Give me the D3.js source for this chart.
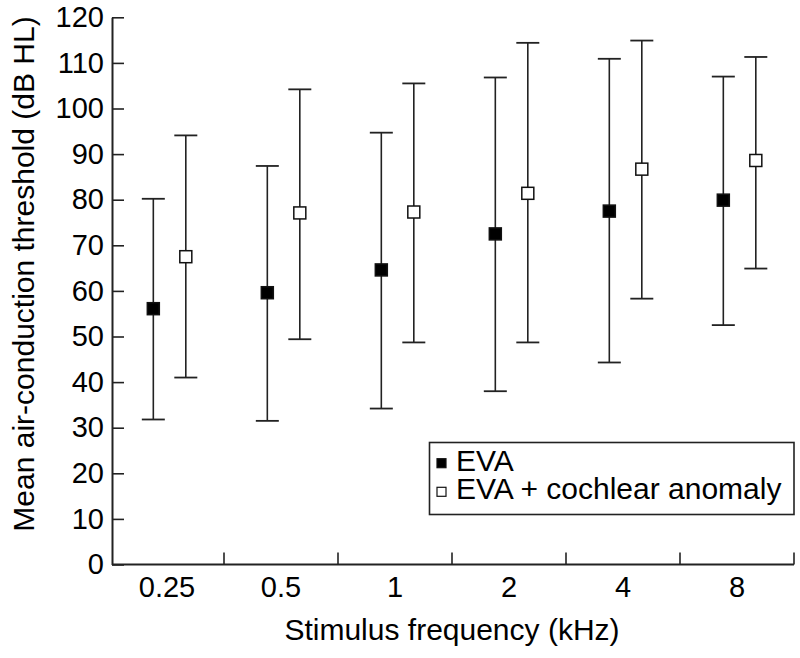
<!DOCTYPE html>
<html>
<head>
<meta charset="utf-8">
<script src="https://cdn.jsdelivr.net/npm/d3@7"></script>
<style>
  html, body { margin: 0; padding: 0; background: #fff; }
  svg { display: block; font-family: "Liberation Sans", Arial, sans-serif; }
</style>
</head>
<body>
<svg id="chart" width="800" height="658"></svg>
<script>
// ---- data ----
const categories = ["0.25", "0.5", "1", "2", "4", "8"];
const evaMean   = [56.1, 59.6, 64.6, 72.5, 77.5, 79.9];
const evaUpper  = [80.2, 87.4, 94.7, 106.8, 110.9, 107.0];
const evaLower  = [31.8, 31.5, 34.2, 38.0, 44.3, 52.5];
const anomMean  = [67.5, 77.1, 77.3, 81.4, 86.7, 88.6];
const anomUpper = [94.1, 104.2, 105.5, 114.4, 114.9, 111.3];
const anomLower = [41.0, 49.4, 48.7, 48.7, 58.3, 64.9];
const yTicks = [0, 10, 20, 30, 40, 50, 60, 70, 80, 90, 100, 110, 120];
const seriesNames = ["EVA", "EVA + cochlear anomaly"];

// ---- layout ----
const svg = d3.select("#chart");
const axisX = 112;          // y-axis position
const plotRight = 794;
const plotTop = 17.3;
const plotBottom = 564.5;
const ink = "#222";

const x = d3.scaleBand().domain(categories).range([110, plotRight]).padding(0);
const y = d3.scaleLinear().domain([0, 120]).range([plotBottom, plotTop]);
const bw = x.bandwidth();

const series = [
  { name: seriesNames[0], mean: evaMean, upper: evaUpper, lower: evaLower, frac: 0.38, fill: "#000" },
  { name: seriesNames[1], mean: anomMean, upper: anomUpper, lower: anomLower, frac: 0.665, fill: "#fff" }
];

// ---- y axis ----
const yAxis = svg.append("g")
  .attr("transform", `translate(${axisX},0)`)
  .call(d3.axisLeft(y).tickValues(yTicks).tickSizeInner(-12).tickSizeOuter(0).tickPadding(8));
yAxis.select(".domain").attr("stroke", ink).attr("stroke-width", 2);
yAxis.selectAll(".tick line").attr("stroke", ink).attr("stroke-width", 1.6);
yAxis.selectAll(".tick text")
  .attr("fill", "#000").style("font-size", "29px")
  .style("font-family", "'Liberation Sans', Arial, sans-serif");

// ---- x axis ----
const xAxis = svg.append("g")
  .attr("transform", `translate(0,${plotBottom})`)
  .call(d3.axisBottom(x).tickSize(0).tickPadding(12));
xAxis.select(".domain").remove();
xAxis.selectAll(".tick text")
  .attr("fill", "#000").attr("dy", "0.71em").style("font-size", "29px")
  .style("font-family", "'Liberation Sans', Arial, sans-serif");

svg.append("line")
  .attr("x1", axisX).attr("x2", plotRight)
  .attr("y1", plotBottom).attr("y2", plotBottom)
  .attr("stroke", ink).attr("stroke-width", 2);

// boundary ticks (pointing up)
svg.append("g").selectAll("line")
  .data(categories)
  .join("line")
  .attr("x1", d => x(d) + bw).attr("x2", d => x(d) + bw)
  .attr("y1", plotBottom).attr("y2", plotBottom - 12)
  .attr("stroke", ink).attr("stroke-width", 1.6);

// ---- error bars and markers ----
const capHalf = 11.5;
const mSize = 12;
series.forEach(s => {
  const g = svg.append("g");
  const cx = (d) => x(d) + bw * s.frac;
  const rows = categories.map((c, i) => ({ c, mean: s.mean[i], up: s.upper[i], lo: s.lower[i] }));
  g.selectAll("line.v").data(rows).join("line").attr("class", "v")
    .attr("x1", d => cx(d.c)).attr("x2", d => cx(d.c))
    .attr("y1", d => y(d.up)).attr("y2", d => y(d.lo))
    .attr("stroke", ink).attr("stroke-width", 1.6);
  g.selectAll("line.cu").data(rows).join("line").attr("class", "cu")
    .attr("x1", d => cx(d.c) - capHalf).attr("x2", d => cx(d.c) + capHalf)
    .attr("y1", d => y(d.up)).attr("y2", d => y(d.up))
    .attr("stroke", ink).attr("stroke-width", 1.8);
  g.selectAll("line.cl").data(rows).join("line").attr("class", "cl")
    .attr("x1", d => cx(d.c) - capHalf).attr("x2", d => cx(d.c) + capHalf)
    .attr("y1", d => y(d.lo)).attr("y2", d => y(d.lo))
    .attr("stroke", ink).attr("stroke-width", 1.8);
  g.selectAll("rect").data(rows).join("rect")
    .attr("x", d => cx(d.c) - mSize / 2).attr("y", d => y(d.mean) - mSize / 2)
    .attr("width", mSize).attr("height", mSize)
    .attr("fill", s.fill).attr("stroke", "#111").attr("stroke-width", 1.5);
});

// ---- legend ----
const lg = svg.append("g");
lg.append("rect")
  .attr("x", 429.5).attr("y", 442.5).attr("width", plotRight - 429.5).attr("height", 72)
  .attr("fill", "#fff").attr("stroke", ink).attr("stroke-width", 1.6);
const lineGap = 28.6;
series.forEach((s, i) => {
  const by = 470.7 + i * lineGap;
  lg.append("rect")
    .attr("x", 437).attr("y", by - 12).attr("width", 9).attr("height", 9)
    .attr("fill", s.fill).attr("stroke", "#111").attr("stroke-width", 1.2);
});
const lgText = lg.append("text")
  .attr("fill", "#000").style("font-size", "30px");
lgText.selectAll("tspan").data(series).join("tspan")
  .attr("x", 456).attr("y", (s, i) => 470.7 + i * lineGap)
  .text(s => s.name);

// ---- axis titles ----
svg.append("text")
  .attr("x", 452).attr("y", 639.5)
  .attr("text-anchor", "middle").attr("fill", "#000").style("font-size", "30px")
  .text("Stimulus frequency (kHz)");
svg.append("text")
  .attr("transform", "translate(34,274) rotate(-90)")
  .attr("text-anchor", "middle").attr("fill", "#000").style("font-size", "30px")
  .text("Mean air-conduction threshold (dB HL)");
</script>
</body>
</html>
